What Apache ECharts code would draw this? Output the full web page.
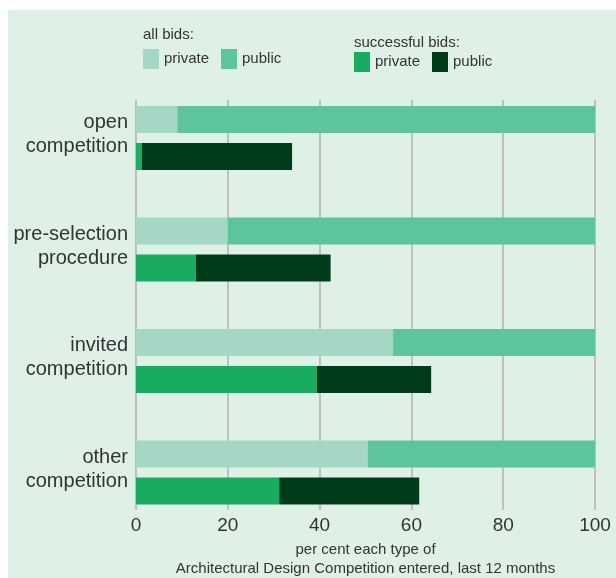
<!DOCTYPE html>
<html>
<head>
<meta charset="utf-8">
<script src="https://cdn.jsdelivr.net/npm/echarts@6/dist/echarts.min.js"></script>
<style>
  html, body { margin: 0; padding: 0; background: #ffffff; }
  #chart { position: absolute; left: 8px; top: 10px; width: 608px; height: 568px; }
</style>
</head>
<body>
<div id="chart"></div>
<script>
const categories = ['open\ncompetition', 'pre-selection\nprocedure', 'invited\ncompetition', 'other\ncompetition'];
const allPrivate = [9, 20, 56, 50.5];
const allPublic = [91, 80, 44, 49.5];
const successPrivate = [1.3, 13, 39.4, 31.2];
const successPublic = [32.7, 29.4, 24.9, 30.5];
const xTicks = [0, 20, 40, 60, 80, 100];

const FONT = 'Liberation Sans, Arial, sans-serif';
const TXT = '#333333';
const chart = echarts.init(document.getElementById('chart'), null, { renderer: 'canvas' });

function bar(name, stack, data, color) {
  return {
    name: name, type: 'bar', stack: stack, data: data,
    xAxisIndex: 0, yAxisIndex: 0,
    barWidth: 27, barGap: '37%',
    itemStyle: { color: color },
    emphasis: { disabled: true },
    z: 3
  };
}

chart.setOption({
  backgroundColor: '#dff1e7',
  animation: false,
  textStyle: { fontFamily: FONT },
  title: [
    { text: 'all bids:', left: 135, top: 17, padding: 0,
      textStyle: { fontSize: 15, fontWeight: 'normal', color: TXT, fontFamily: FONT } },
    { text: 'successful bids:', left: 346, top: 25, padding: 0,
      textStyle: { fontSize: 15, fontWeight: 'normal', color: TXT, fontFamily: FONT } }
  ],
  legend: [
    { data: ['all private', 'all public'], left: 135, top: 39, padding: 0,
      icon: 'rect', itemWidth: 16, itemHeight: 20, itemGap: 12,
      formatter: n => n.replace('all ', ''),
      textStyle: { fontSize: 15, color: TXT, fontFamily: FONT }, selectedMode: false },
    { data: ['successful private', 'successful public'], left: 346, top: 42, padding: 0,
      icon: 'rect', itemWidth: 16, itemHeight: 20, itemGap: 12,
      formatter: n => n.replace('successful ', ''),
      textStyle: { fontSize: 15, color: TXT, fontFamily: FONT }, selectedMode: false }
  ],
  grid: [
    { left: 128, right: 21, top: 72.25, height: 446, containLabel: false, outerBoundsMode: 'none' },
    { left: 128, right: 21, top: 90, height: 410, containLabel: false, outerBoundsMode: 'none' }
  ],
  xAxis: [
    { gridIndex: 0, type: 'value', min: 0, max: 100, show: false },
    { gridIndex: 1, type: 'value', min: 0, max: 100, interval: 20,
      axisLine: { show: false, onZero: false }, axisTick: { show: false },
      splitLine: { show: true, lineStyle: { color: '#c0c0c0', width: 2 } },
      axisLabel: { color: TXT, fontSize: 19, margin: 6, fontFamily: FONT,
        formatter: v => xTicks.includes(v) ? String(v) : '' },
      name: 'per cent each type of\nArchitectural Design Competition entered, last 12 months',
      nameLocation: 'middle', nameGap: 30,
      nameTextStyle: { fontSize: 15, color: TXT, lineHeight: 19, fontFamily: FONT } }
  ],
  yAxis: [
    { gridIndex: 0, type: 'category', inverse: true, data: categories,
      axisLine: { show: false }, axisTick: { show: false }, splitLine: { show: false },
      axisLabel: { color: TXT, fontSize: 20, lineHeight: 24, margin: 8, align: 'right',
        fontFamily: FONT,
        formatter: v => v + '\n{s|}',
        rich: { s: { fontSize: 6, lineHeight: 7 } } } },
    { gridIndex: 1, type: 'value', min: 0, max: 1, show: false }
  ],
  series: [
    bar('all private', 'all', allPrivate, '#a4d8c4'),
    bar('all public', 'all', allPublic, '#5dc49c'),
    bar('successful private', 'succ', successPrivate, '#19ab5f'),
    bar('successful public', 'succ', successPublic, '#003c19')
  ]
});
</script>
</body>
</html>
